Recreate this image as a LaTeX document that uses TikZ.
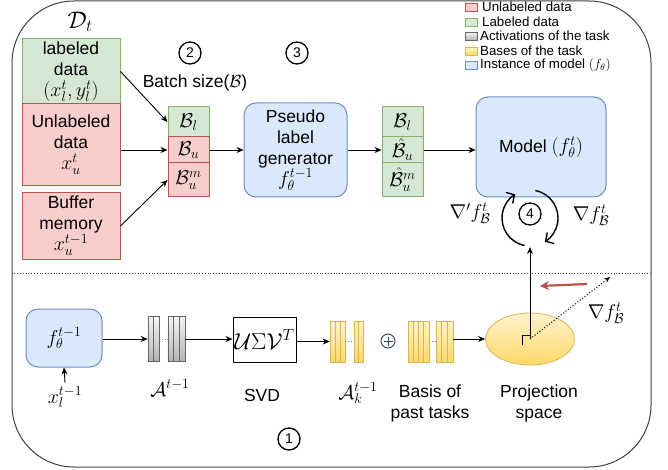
\RequirePackage{fix-cm}
\documentclass[tikz,border=0pt]{standalone}
\usepackage[no-math]{fontspec}
\setmainfont{Liberation Sans}
\usetikzlibrary{arrows.meta,shapes.geometric,calc}
\definecolor{gfill}{HTML}{D5E8D4}
\definecolor{gline}{HTML}{82B366}
\definecolor{rfill}{HTML}{F8CECC}
\definecolor{rline}{HTML}{B85450}
\definecolor{bfill}{HTML}{DAE8FC}
\definecolor{bline}{HTML}{6C8EBF}
\definecolor{ytop}{HTML}{FFF2CC}
\definecolor{ybot}{HTML}{FFD966}
\definecolor{yline}{HTML}{D6B656}
\definecolor{gtop}{HTML}{F5F5F5}
\definecolor{gbot}{HTML}{B3B3B3}
\definecolor{grline}{HTML}{666666}
\definecolor{plusc}{HTML}{23445D}
\newcommand\mymath[1]{{\fontsize{20}{24}\selectfont$#1$}}
\begin{document}
\begin{tikzpicture}[x=1pt,y=-1pt,
  every node/.style={font=\fontsize{17.5}{21}\selectfont},
  gbox/.style={draw=gline, fill=gfill, line width=1pt, inner sep=0pt, align=center},
  rbox/.style={draw=rline, fill=rfill, line width=1pt, inner sep=0pt, align=center},
  bbox/.style={draw=bline, fill=bfill, line width=1pt, inner sep=0pt, align=center, rounded corners=12pt},
  numc/.style={circle, draw, line width=1.3pt, minimum size=22pt, inner sep=0pt, font=\fontsize{14}{14}\selectfont},
  arr/.style={-{Stealth[length=7pt,width=6pt]}, line width=0.9pt},
  graybar/.style={draw=grline, top color=gtop, bottom color=gbot, minimum height=45pt, inner sep=0pt, line width=0.7pt},
  yelbar/.style={draw=yline, top color=ytop, bottom color=ybot, minimum height=41pt, inner sep=0pt, line width=0.7pt},
  legsw/.style={draw, line width=0.8pt, minimum width=12pt, minimum height=8pt, inner sep=0pt},
  legtx/.style={anchor=west, inner sep=0pt, font=\fontsize{13.3}{14}\selectfont},
  mathl/.style={font=\fontsize{20}{24}\selectfont}
]
\useasboundingbox (0,0) rectangle (668,470);
% frame
\node[draw=black!75, line width=1pt, rounded corners=62pt, minimum width=639pt, minimum height=466pt, inner sep=0pt] (frame) at (331.5,234) {};
\draw[dotted, line width=0.8pt, black!70] (frame.west |- 0,273) -- (frame.east |- 0,273);

% legend
\node[legsw, draw=rline, fill=rfill] (l1) at (471,7) {};
\node[legtx] (t1) at (482,7) {Unlabeled data};
\node[legsw, draw=gline, fill=gfill] (l2) at (471,22) {};
\node[legtx] (t2) at (482,22) {Labeled data};
\node[legsw, draw=grline, top color=gtop, bottom color=gbot] (l3) at (471,36) {};
\node[legtx] (t3) at (480,36) {Activations of the task};
\node[legsw, draw=yline, top color=ytop, bottom color=ybot] (l4) at (471,51) {};
\node[legtx] (t4) at (480,51) {Bases of the task};
\node[legsw, draw=bline, fill=bfill] (l5) at (471,65) {};
\node[legtx] (t5) at (480,65) {Instance of model $(f_\theta)$};

% top part
\node[font=\fontsize{24}{24}\selectfont] (dt) at (80,22) {$\mathcal{D}_t$};
\node[gbox, minimum width=98pt, minimum height=65pt] (lab) at (71,71.5) {labeled\\data\\\mymath{(x_l^t, y_l^t)}};
\node[rbox, minimum width=98pt, minimum height=82pt] (unl) at (71,145) {Unlabeled\\data\\\mymath{x_u^t}};
\node[rbox, minimum width=98pt, minimum height=66pt] (buf) at (71,226) {Buffer\\memory\\\mymath{x_u^{t-1}}};

\node[numc] (n2) at (190,53) {2};
\node (bs) at (195,83) {Batch size($\mathcal{B}$)};
\node[numc] (n3) at (297,53) {3};

\node[gbox, mathl, minimum width=41pt, minimum height=30pt] (bl) at (188.5,122) {$\mathcal{B}_l$};
\node[rbox, mathl, minimum width=41pt, minimum height=26pt] (bu) at (188.5,150) {$\mathcal{B}_u$};
\node[rbox, mathl, minimum width=41pt, minimum height=34pt] (bum) at (188.5,180) {$\mathcal{B}_u^m$};

\node[bbox, minimum width=103pt, minimum height=94pt] (psd) at (295.5,150) {Pseudo\\label\\generator\\\mymath{f_\theta^{t-1}}};

\node[gbox, mathl, minimum width=41pt, minimum height=30pt] (hbl) at (402.5,122) {$\mathcal{B}_l$};
\node[gbox, mathl, minimum width=41pt, minimum height=26pt] (hbu) at (402.5,150) {$\hat{\mathcal{B}}_u$};
\node[gbox, mathl, minimum width=41pt, minimum height=34pt] (hbum) at (402.5,180) {$\hat{\mathcal{B}}_u^m$};

\node[bbox, minimum width=130pt, minimum height=100pt] (model) at (541,147) {Model \mymath{(f_\theta^t)}};

\draw[arr] (lab.east) -- (bl.west);
\draw[arr] (unl.east |- bu.west) -- (bu.west);
\draw[arr] (buf.east) -- (bum.west);
\draw[arr] (bu.east) -- (psd.west |- bu.east);
\draw[arr] (psd.east |- hbu.west) -- (hbu.west);
\draw[arr] (hbu.east) -- (model.west |- hbu.east);

% loop
\node[numc] (n4) at (530,214) {4};
\coordinate (lc) at (530,218);
\draw[line width=1.4pt, -{Straight Barb[length=6pt,width=13pt]}] ($(lc)+(259:28pt)$) arc[start angle=259, end angle=122, radius=28pt];
\draw[line width=1.4pt, -{Straight Barb[length=6pt,width=13pt]}] ($(lc)+(79:28pt)$) arc[start angle=79, end angle=-58, radius=28pt];
\node[mathl] (gl) at (470,213) {$\nabla' f_{\mathcal{B}}^t$};
\node[mathl] (gr) at (591,215) {$\nabla f_{\mathcal{B}}^t$};

% bottom part
\node[bbox, mathl, minimum width=76pt, minimum height=58pt] (fb) at (64,338) {$f_\theta^{t-1}$};
\node[mathl] (xl) at (65,397) {$x_l^{t-1}$};
\draw[arr] (xl.north) -- (fb.south);

\foreach \n/\x in {1/150.75, 2/156.25}
  \node[graybar, minimum width=5.5pt] (ga\n) at (\x,339) {};
\foreach \n/\x in {3/170.83, 4/176.5, 5/182.17}
  \node[graybar, minimum width=5.67pt] (ga\n) at (\x,339) {};
\draw[dotted, bline, line width=0.6pt] (ga2.east) -- (ga3.west);
\node[mathl] (alab) at (170,388) {$\mathcal{A}^{t-1}$};

\node[draw, line width=1pt, minimum width=63pt, minimum height=45pt, inner sep=0pt, font=\fontsize{23}{24}\selectfont] (svd) at (264.5,339.5) {$\mathcal{U}\Sigma\mathcal{V}^T$};
\node (svdl) at (262,395) {SVD};

\foreach \n/\x in {1/332.5, 2/337.5, 3/342.5}
  \node[yelbar, minimum width=5pt] (ya\n) at (\x,341.5) {};
\foreach \n/\x in {4/356.25, 5/360.75}
  \node[yelbar, minimum width=4.5pt] (ya\n) at (\x,341.5) {};
\draw[dotted, gray, line width=0.8pt] (ya3.east) -- (ya4.west);
\node[mathl] (aklab) at (358,393) {$\mathcal{A}_k^{t-1}$};

\node[circle, draw=plusc, line width=0.9pt, minimum size=14pt, inner sep=0pt] (plus) at (388,341) {};
\draw[plusc, line width=0.9pt] ($(plus.center)+(-4.5,0)$) -- ($(plus.center)+(4.5,0)$);
\draw[plusc, line width=0.9pt] ($(plus.center)+(0,-4.5)$) -- ($(plus.center)+(0,4.5)$);

\foreach \n/\x in {1/410.625, 2/415.875, 3/421.125, 4/426.375}
  \node[yelbar, minimum width=5.25pt] (yb\n) at (\x,341.5) {};
\foreach \n/\x in {5/438.83, 6/444.5, 7/450.17}
  \node[yelbar, minimum width=5.67pt] (yb\n) at (\x,341.5) {};
\draw[dotted, gray, line width=0.8pt] (yb4.east) -- (yb5.west);
\node[align=center] (basl) at (430,403) {Basis of\\past tasks};

\node[ellipse, draw=yline, top color=ytop, bottom color=ybot, line width=0.8pt, minimum width=89pt, minimum height=52pt, inner sep=0pt] (ell) at (530,339) {};
\node[align=center] (projl) at (539,403) {Projection\\space};

\draw[arr] (fb.east |- ga1.west) -- (ga1.west);
\draw[arr] (ga5.east) -- (svd.west |- ga5.east);
\draw[arr] (svd.east |- ya1.west) -- (ya1.west);
\draw[arr] (yb7.east |- ell.west) -- (ell.west);

% projection
\coordinate (loopin) at (530,247);
\draw[arr, line width=0.9pt] (ell.center) -- (loopin);
\draw[line width=0.9pt] (522.5,345) -- (522.5,335.5) -- (530,335.5);
\coordinate (gtip) at (610,277);
\draw[dotted, line width=1pt, -{Stealth[length=6pt,width=5pt]}] (ell.center) -- (gtip);
\coordinate (rs) at (587,284);
\coordinate (re) at (540,286);
\draw[rline, line width=2.2pt, -{Stealth[length=9pt,width=9pt]}] (rs) -- (re);
\node[mathl] (gp) at (606,313) {$\nabla f_{\mathcal{B}}^t$};

\node[numc] (n1) at (289,439) {1};
\end{tikzpicture}
\end{document}
